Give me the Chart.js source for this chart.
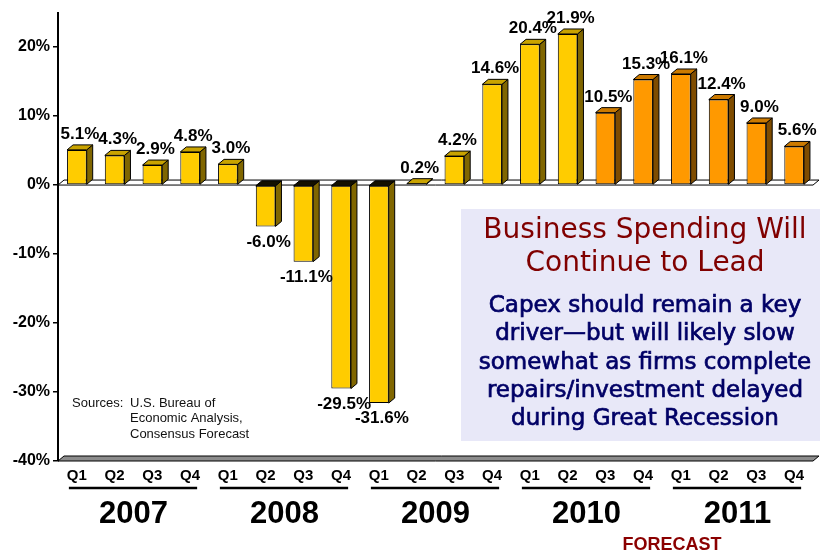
<!DOCTYPE html>
<html>
<head>
<meta charset="utf-8">
<script src="https://cdn.jsdelivr.net/npm/chart.js@4.4.1/dist/chart.umd.min.js"></script>
<style>
  html, body { margin: 0; padding: 0; background: #fff; }
  canvas { display: block; }
</style>
</head>
<body>
<canvas id="capex" width="820" height="554"></canvas>
<script>
// Real business fixed investment, annualized quarterly % change
const quarters = ['Q1','Q2','Q3','Q4','Q1','Q2','Q3','Q4','Q1','Q2','Q3','Q4',
                  'Q1','Q2','Q3','Q4','Q1','Q2','Q3','Q4'];
const years = ['2007', '2008', '2009', '2010', '2011'];
const growth = [5.1, 4.3, 2.9, 4.8, 3.0, -6.0, -11.1, -29.5, -31.6, 0.2,
                4.2, 14.6, 20.4, 21.9, 10.5, 15.3, 16.1, 12.4, 9.0, 5.6];
const firstForecast = 14;            // 2010 Q3 onward is forecast
const yTickValues = [-40, -30, -20, -10, 0, 10, 20];
const sourceLead = 'Sources:';
const sourceLines = ['U.S. Bureau of', 'Economic Analysis,', 'Consensus Forecast'];
const boxTitle = ['Business Spending Will', 'Continue to Lead'];
const boxBody = ['Capex should remain a key', 'driver\u2014but will likely slow',
                 'somewhat as firms complete', 'repairs/investment delayed',
                 'during Great Recession'];
const forecastNote = 'FORECAST';

const DX = 6, DY = -5;   // depth offset of the 3-D faces
const ARIAL = '"Liberation Sans", Arial, Helvetica, sans-serif';
const VERDANA = '"DejaVu Sans", Verdana, sans-serif';
const palette = {
  actual:   { front: '#FFCC00', side: '#806600', top: '#C9A300' },
  forecast: { front: '#FF9900', side: '#7F4C00', top: '#CC7A00' }
};

function poly(ctx, pts, fill) {
  ctx.beginPath();
  ctx.moveTo(pts[0][0], pts[0][1]);
  for (let i = 1; i < pts.length; i++) ctx.lineTo(pts[i][0], pts[i][1]);
  ctx.closePath();
  ctx.fillStyle = fill;
  ctx.fill();
  ctx.stroke();
}

// Floor planes at the zero line and along the bottom of the axis
const floors = {
  id: 'floors',
  beforeDatasetsDraw(chart) {
    const { ctx, chartArea: a, scales: { y } } = chart;
    const z = y.getPixelForValue(0);
    const b = y.getPixelForValue(-40);
    ctx.save();
    ctx.strokeStyle = '#000';
    ctx.lineWidth = 1;
    poly(ctx, [[a.left, b], [a.left + DX, b + DY], [a.right + DX, b + DY], [a.right, b]], '#8c8c8c');
    poly(ctx, [[a.left, z], [a.left + DX, z + DY], [a.right + DX, z + DY], [a.right, z]], '#fff');
    ctx.restore();
  }
};

// Side and top faces of each bar, then the value labels
const bars3d = {
  id: 'bars3d',
  afterDatasetsDraw(chart) {
    const { ctx } = chart;
    const meta = chart.getDatasetMeta(0);
    ctx.save();
    ctx.strokeStyle = '#000';
    ctx.lineWidth = 1;
    meta.data.forEach((bar, i) => {
      const { x, y, base, width } = bar.getProps(['x', 'y', 'base', 'width'], true);
      const l = x - width / 2, r = x + width / 2;
      const top = Math.min(y, base), bot = Math.max(y, base);
      const c = i >= firstForecast ? palette.forecast : palette.actual;
      poly(ctx, [[r, top], [r + DX, top + DY], [r + DX, bot + DY], [r, bot]], c.side);
      poly(ctx, [[l, top], [l + DX, top + DY], [r + DX, top + DY], [r, top]],
           growth[i] < 0 ? '#141000' : c.top);
    });
    ctx.fillStyle = '#000';
    ctx.font = 'bold 17px ' + ARIAL;
    ctx.textAlign = 'center';
    meta.data.forEach((bar, i) => {
      const { x, y, base } = bar.getProps(['x', 'y', 'base'], true);
      const v = growth[i];
      const txt = v.toFixed(1) + '%';
      if (v >= 0) {
        ctx.textBaseline = 'alphabetic';
        ctx.fillText(txt, x + DX / 2, Math.min(y, base) + DY - 6);
      } else {
        ctx.textBaseline = 'top';
        ctx.fillText(txt, x + DX / 2, Math.max(y, base) + 7);
      }
    });
    ctx.restore();
  }
};

// Year groups, forecast note, sources and the commentary panel
const decorations = {
  id: 'decorations',
  afterDraw(chart) {
    const { ctx, chartArea: a, scales: { x } } = chart;
    ctx.save();
    ctx.strokeStyle = '#000';
    ctx.fillStyle = '#000';
    ctx.lineWidth = 2.5;
    ctx.textAlign = 'center';
    ctx.textBaseline = 'middle';
    ctx.font = 'bold 31px ' + ARIAL;
    years.forEach((yr, k) => {
      const x0 = x.getPixelForValue(k * 4);
      const x3 = x.getPixelForValue(k * 4 + 3);
      ctx.beginPath();
      ctx.moveTo(x0 - 8, a.bottom + 27);
      ctx.lineTo(x3 + 7, a.bottom + 27);
      ctx.stroke();
      ctx.fillText(yr, (x0 + x3) / 2, a.bottom + 53);
    });

    ctx.fillStyle = '#8B0000';
    ctx.font = 'bold 18px ' + ARIAL;
    const fx = (x.getPixelForValue(15) + x.getPixelForValue(16)) / 2 + 10;
    ctx.fillText(forecastNote, fx, a.bottom + 84);

    // sources
    ctx.fillStyle = '#111';
    ctx.font = '13px ' + ARIAL;
    ctx.textAlign = 'left';
    ctx.fillText(sourceLead, a.left + 14, 403);
    sourceLines.forEach((s, k) => ctx.fillText(s, a.left + 72, 403 + k * 15.8));

    // commentary panel
    ctx.fillStyle = '#E8E8F8';
    ctx.fillRect(461, 209, 359, 232);
    ctx.textAlign = 'center';
    ctx.fillStyle = '#800000';
    ctx.font = '28px ' + VERDANA;
    boxTitle.forEach((s, k) => ctx.fillText(s, 645, 231 + k * 33));
    ctx.fillStyle = '#000066';
    ctx.strokeStyle = '#000066';
    ctx.lineWidth = 0.7;
    ctx.font = '23px ' + VERDANA;
    boxBody.forEach((s, k) => {
      ctx.fillText(s, 645, 306 + k * 28.3);
      ctx.strokeText(s, 645, 306 + k * 28.3);
    });
    ctx.restore();
  }
};

new Chart(document.getElementById('capex'), {
  type: 'bar',
  data: {
    labels: quarters,
    datasets: [{
      data: growth,
      backgroundColor: growth.map((v, i) => i >= firstForecast ? palette.forecast.front : palette.actual.front),
      borderColor: '#000',
      borderWidth: 1,
      borderSkipped: false,
      categoryPercentage: 1,
      barPercentage: 0.52
    }]
  },
  options: {
    responsive: false,
    animation: false,
    layout: { padding: { top: 9, right: 7, left: 0, bottom: 0 } },
    plugins: { legend: { display: false }, tooltip: { enabled: false } },
    scales: {
      x: {
        grid: { display: false, drawTicks: false },
        border: { display: false },
        ticks: {
          color: '#000',
          font: { family: ARIAL, weight: 'bold', size: 15 },
          padding: 6,
          maxRotation: 0,
          autoSkip: false
        },
        afterFit(scale) { scale.height = 93; }
      },
      y: {
        min: -40,
        max: 25,
        afterBuildTicks(scale) { scale.ticks = yTickValues.map(v => ({ value: v })); },
        ticks: {
          color: '#000',
          font: { family: ARIAL, weight: 'bold', size: 16 },
          padding: 3,
          callback: v => v + '%'
        },
        grid: { drawOnChartArea: false, drawTicks: true, tickLength: 5, color: '#000', lineWidth: 1.5 },
        border: { display: true, color: '#000', width: 2 },
        afterFit(scale) { scale.width = 58; }
      }
    }
  },
  plugins: [floors, bars3d, decorations]
});
</script>
</body>
</html>
